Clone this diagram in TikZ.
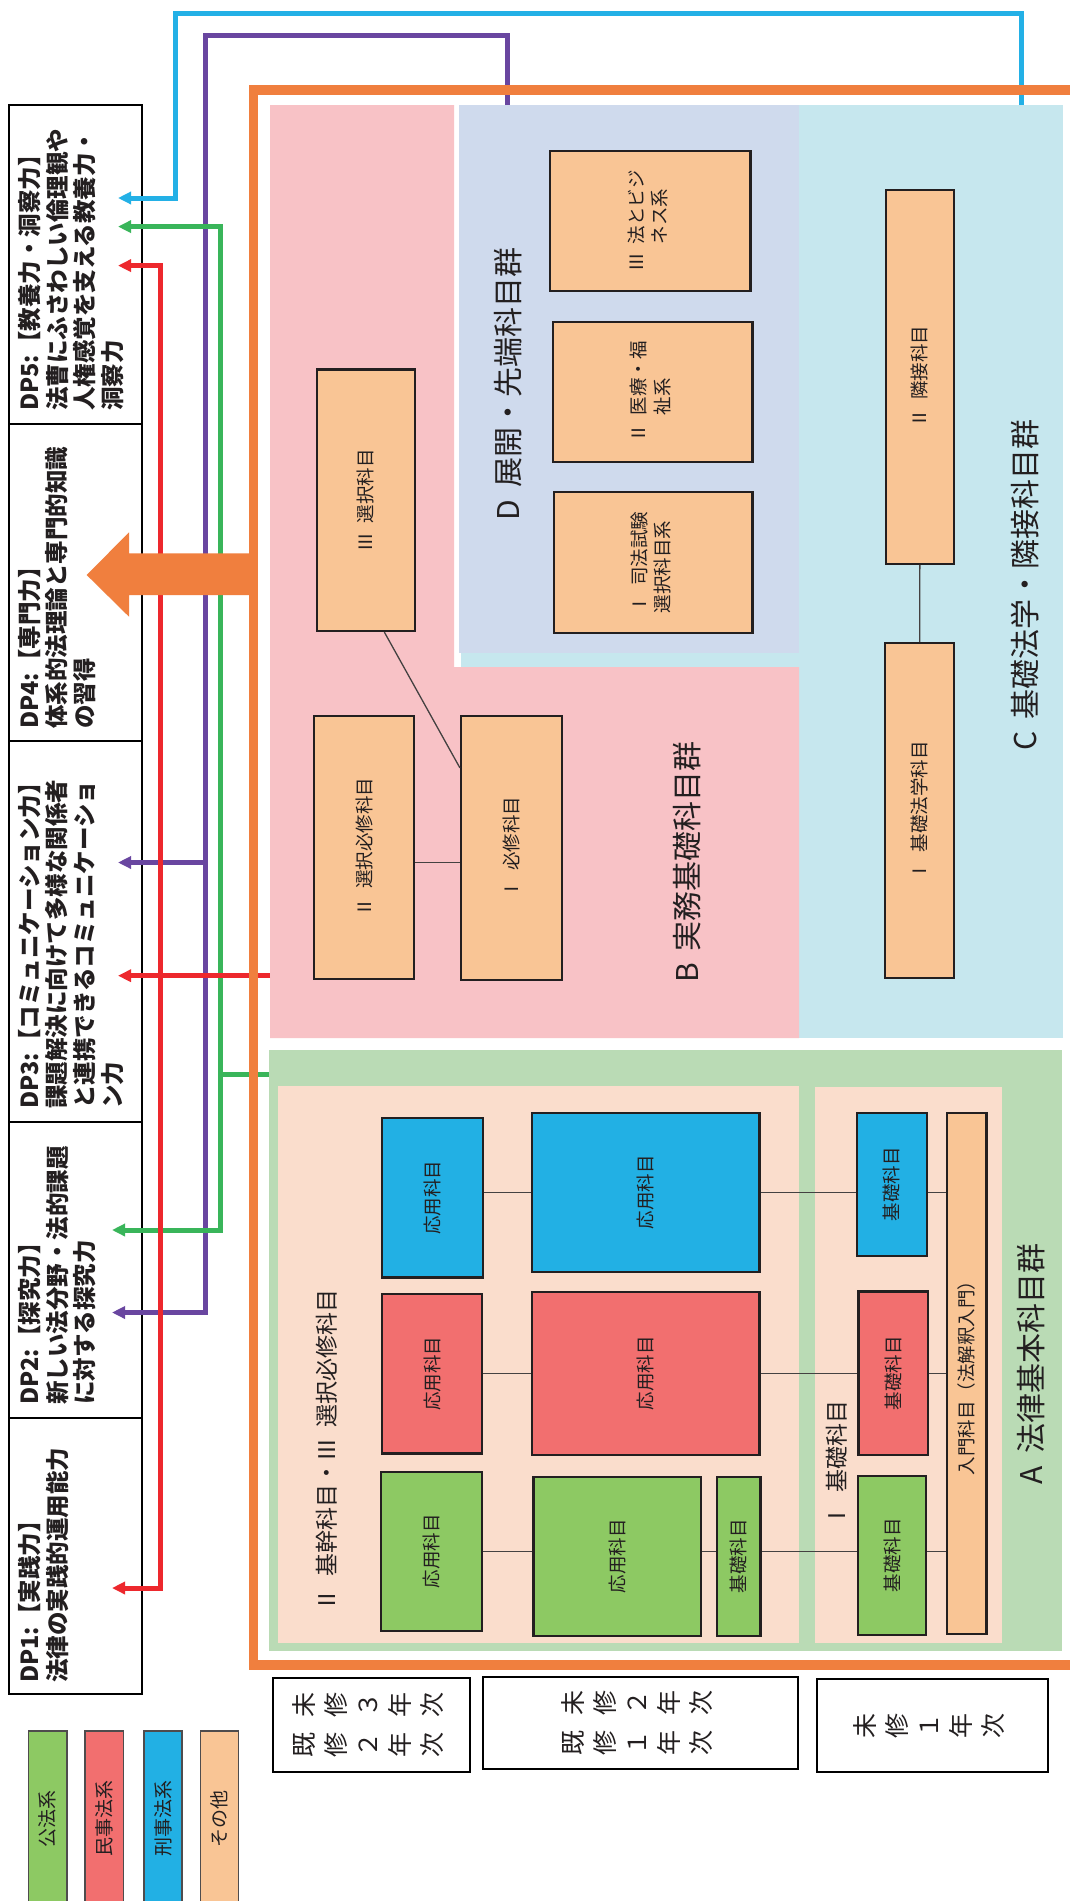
\documentclass[tikz,border=0pt]{standalone}
\usepackage{fontspec}
\setmainfont{Noto Sans CJK JP}
\usetikzlibrary{calc,arrows.meta}
\definecolor{cgreen}{RGB}{141,201,99}
\definecolor{cred}{RGB}{242,111,111}
\definecolor{cblue}{RGB}{34,176,228}
\definecolor{cpeach}{RGB}{249,197,149}
\definecolor{regA}{RGB}{186,219,181}
\definecolor{panel}{RGB}{250,221,204}
\definecolor{regB}{RGB}{248,194,198}
\definecolor{regC}{RGB}{198,231,238}
\definecolor{regD}{RGB}{207,218,237}
\definecolor{orangeF}{RGB}{240,127,62}
\definecolor{lnred}{RGB}{237,40,45}
\definecolor{lngreen}{RGB}{57,181,90}
\definecolor{lnpurple}{RGB}{105,70,160}
\definecolor{lncyan}{RGB}{35,176,230}
\definecolor{ink}{RGB}{35,31,32}
\newcommand{\rotT}[1]{\rotatebox{90}{#1}}
\begin{document}
\begin{tikzpicture}[x=1pt,y=-1pt,
  subj/.style={draw=ink,line width=2.2pt,inner sep=0pt,text=ink,font=\fontsize{18.5}{23.6}\selectfont},
  thinconn/.style={draw=ink!85,line width=1.3pt},
  conn/.style={line width=5pt},
  tipend/.style={-{Triangle[length=13pt,width=12pt]}},
  tipboth/.style={{Triangle[length=13pt,width=12pt]}-{Triangle[length=13pt,width=12pt]}},
  dpcell/.style={draw=black,line width=1.8pt,inner sep=0pt,minimum width=132.4pt},
  dptext/.style={rotate=90,anchor=north west,inner sep=0pt,align=left,text=ink,font=\fontsize{23.5}{27.7}\selectfont\bfseries},
  reglabel/.style={rotate=90,inner sep=0pt,text=ink,font=\fontsize{30}{34}\selectfont},
  grplabel/.style={rotate=90,inner sep=0pt,text=ink,font=\fontsize{23}{28}\selectfont},
  legendbox/.style={draw=ink!80,line width=1.5pt,inner sep=0pt,minimum width=38.2pt,minimum height=175pt,text=ink,font=\fontsize{19}{22}\selectfont},
  yearbox/.style={draw=black,line width=2pt,inner sep=0pt,text=ink,font=\fontsize{25}{32}\selectfont}
]
\useasboundingbox (0,0) rectangle (1069,1901);
\fill[white] (0,0) rectangle (1069,1901);

% regions
\fill[regC] (461,105) rectangle (1063,1038);
\fill[regD] (459,105) rectangle (799,653);
\fill[regB] (270,105) -- (454,105) -- (454,667) -- (799,667) -- (799,1038) -- (270,1038) -- cycle;
\fill[regA] (269,1050) rectangle (1062,1651);
\fill[panel] (278,1086) rectangle (799,1643);
\fill[panel] (815,1087) rectangle (1001.5,1643);

% region labels
\node[reglabel] (labA) at (1031,1364) {A\hspace{0.4em}法律基本科目群};
\node[reglabel] (labB) at (687,862) {B\hspace{0.4em}実務基礎科目群};
\node[reglabel] (labC) at (1025,585) {C\hspace{0.4em}基礎法学・隣接科目群};
\node[reglabel] (labD) at (508.5,384) {D\hspace{0.4em}展開・先端科目群};
\node[grplabel] (labA2) at (327,1450) {Ⅱ\hspace{0.5em}基幹科目・Ⅲ\hspace{0.5em}選択必修科目};
\node[grplabel] (labA1) at (837,1464) {Ⅰ\hspace{0.5em}基礎科目};

% A subject boxes
\node[subj,fill=cblue,minimum width=100.7pt,minimum height=159.5pt] (b1) at (432.7,1197.75) {\rotT{応用科目}};
\node[subj,fill=cred,minimum width=99.7pt,minimum height=159.5pt] (r1) at (432.2,1373.75) {\rotT{応用科目}};
\node[subj,fill=cgreen,minimum width=100.7pt,minimum height=158.6pt] (g1) at (431.7,1551.3) {\rotT{応用科目}};
\node[subj,fill=cblue,minimum width=227.5pt,minimum height=159.1pt] (b2) at (645.75,1192.25) {\rotT{応用科目}};
\node[subj,fill=cred,minimum width=227.5pt,minimum height=163.2pt] (r2) at (645.75,1373.4) {\rotT{応用科目}};
\node[subj,fill=cgreen,minimum width=167.5pt,minimum height=159.3pt] (g2) at (617.25,1556.35) {\rotT{応用科目}};
\node[subj,fill=cgreen,minimum width=43.8pt,minimum height=159.3pt] (g2k) at (738.6,1556.35) {\rotT{基礎科目}};
\node[subj,fill=cblue,minimum width=69.7pt,minimum height=143.3pt] (b3) at (891.85,1184.35) {\rotT{基礎科目}};
\node[subj,fill=cred,minimum width=69.2pt,minimum height=163.6pt] (r3) at (893.1,1373.2) {\rotT{基礎科目}};
\node[subj,fill=cgreen,minimum width=68pt,minimum height=158.7pt] (g3) at (892,1555.35) {\rotT{基礎科目}};
\node[subj,fill=cpeach,minimum width=39.2pt,minimum height=521.3pt] (ny) at (966.9,1373.35) {\rotT{入門科目（法解釈入門）}};

\draw[thinconn] (b1.east |- b2.west) -- (b2.west);
\draw[thinconn] (b2.east) -- (b2.east -| b3.west);
\draw[thinconn] (b2.east -| b3.east) -- (b2.east -| ny.west);
\draw[thinconn] (r1.east |- r2.west) -- (r2.west);
\draw[thinconn] (r2.east) -- (r2.east -| r3.west);
\draw[thinconn] (r2.east -| r3.east) -- (r2.east -| ny.west);
\draw[thinconn] (g1.east) -- (g1.east -| g2.west);
\draw[thinconn] (g1.east -| g2.east) -- (g1.east -| g2k.west);
\draw[thinconn] (g1.east -| g2k.east) -- (g1.east -| g3.west);
\draw[thinconn] (g1.east -| g3.east) -- (g1.east -| ny.west);

% B boxes
\node[subj,fill=cpeach,minimum width=98.3pt,minimum height=261.5pt] (s3) at (365.85,500.25) {\rotT{Ⅲ\hspace{0.5em}選択科目}};
\node[subj,fill=cpeach,minimum width=99.4pt,minimum height=263.3pt] (s2) at (364,847.35) {\rotT{Ⅱ\hspace{0.5em}選択必修科目}};
\node[subj,fill=cpeach,minimum width=100.7pt,minimum height=264.3pt] (s1) at (511.35,847.85) {\rotT{Ⅰ\hspace{0.5em}必修科目}};
\draw[thinconn] ([yshift=-15pt]s2.east) -- ([yshift=-15pt]s2.east -| s1.west);
\draw[thinconn] ($(s3.south)+(18.5,0)$) -- ($(s1.west)+(0,-80)$);

% D boxes
\node[subj,fill=cpeach,minimum width=200.4pt,minimum height=140pt] (d3) at (650.2,221) {\rotT{\begin{tabular}{@{}l@{}}Ⅲ\hspace{0.5em}法とビジ\\\phantom{Ⅲ\hspace{0.5em}}ネス系\end{tabular}}};
\node[subj,fill=cpeach,minimum width=199.5pt,minimum height=140pt] (d2) at (652.75,392) {\rotT{\begin{tabular}{@{}l@{}}Ⅱ\hspace{0.5em}医療・福\\\phantom{Ⅱ\hspace{0.5em}}祉系\end{tabular}}};
\node[subj,fill=cpeach,minimum width=198.5pt,minimum height=141pt] (d1) at (653.25,562.5) {\rotT{\begin{tabular}{@{}l@{}}Ⅰ\hspace{0.5em}司法試験\\選択科目系\end{tabular}}};

% C boxes
\node[subj,fill=cpeach,minimum width=68.3pt,minimum height=373.7pt] (c2) at (919.85,376.85) {\rotT{Ⅱ\hspace{0.5em}隣接科目}};
\node[subj,fill=cpeach,minimum width=69.3pt,minimum height=335pt] (c1) at (919.65,810.8) {\rotT{Ⅰ\hspace{0.5em}基礎法学科目}};
\draw[thinconn] (c2.south) -- (c1.north);

% DP cells
\node[dpcell,minimum height=319pt] (dp5) at (75.5,264.5) {};
\node[dpcell,minimum height=317pt] (dp4) at (75.5,582.5) {};
\node[dpcell,minimum height=381pt] (dp3) at (75.5,931.5) {};
\node[dpcell,minimum height=296pt] (dp2) at (75.5,1270) {};
\node[dpcell,minimum height=276pt] (dp1) at (75.5,1556) {};
\node[dptext] (dp5t) at (18,411) {DP5:【教養力・洞察力】\\法曹にふさわしい倫理観や\\人権感覚を支える教養力・\\洞察力};
\node[dptext] (dp4t) at (18,729) {DP4:【専門力】\\体系的法理論と専門的知識\\の習得};
\node[dptext] (dp3t) at (18,1109) {DP3:【コミュニケーション力】\\課題解決に向けて多様な関係者\\と連携できるコミュニケーショ\\ン力};
\node[dptext] (dp2t) at (18,1405) {DP2:【探究力】\\新しい法分野・法的課題\\に対する探究力};
\node[dptext] (dp1t) at (18,1683) {DP1:【実践力】\\法律の実践的運用能力};

% connector coordinates
\coordinate (cyS) at (1021.5,105);
\coordinate (cyA) at (1021.5,13);
\coordinate (cyB) at (175,13);
\coordinate (cyC) at (175,198);
\coordinate (cyT) at (118,198);
\coordinate (puS) at (507.5,105);
\coordinate (puA) at (507.5,35);
\coordinate (puB) at (205,35);
\coordinate (puC) at (205,1312.5);
\coordinate (puT2) at (112,1312.5);
\coordinate (puJ) at (205,862.5);
\coordinate (puT3) at (118,862.5);
\coordinate (grS) at (269,1074);
\coordinate (grJ) at (220,1074);
\coordinate (grA) at (220,226.6);
\coordinate (grT5) at (118,226.6);
\coordinate (grB) at (220,1230);
\coordinate (grT2) at (112,1230);
\coordinate (reA) at (160,265.6);
\coordinate (reT5) at (118,265.6);
\coordinate (reB) at (160,1588);
\coordinate (reT1) at (112,1588);
\coordinate (reS) at (270,975.7);
\coordinate (reT3) at (118,975.7);

\draw[conn,lncyan,tipend] (cyS) -- (cyA) -- (cyB) -- (cyC) -- (cyT);
\draw[conn,lnpurple,tipend] (puS) -- (puA) -- (puB) -- (puC) -- (puT2);
\draw[conn,lnpurple,tipend] (puJ) -- (puT3);
\draw[conn,lngreen,tipboth] (grT5) -- (grA) -- (grB) -- (grT2);
\draw[conn,lngreen] (grS) -- (grJ);
\draw[conn,lnred,tipboth] (reT5) -- (reA) -- (reB) -- (reT1);
\draw[conn,lnred,tipend] (reS) -- (reT3);

% orange frame and arrow
\draw[orangeF,line width=9.3pt] (1080,90) -- (253.7,90) -- (253.7,1665) -- (1080,1665);
\fill[orangeF] (86.7,575) -- (129,532.3) -- (129,553.3) -- (257,553.3) -- (257,595) -- (129,595) -- (129,616.7) -- cycle;

% year boxes
\node[yearbox,minimum width=197.7pt,minimum height=94pt] (y1) at (371.55,1725) {\rotT{\begin{tabular}{@{}c@{}}既\hspace{15pt}未\\修\hspace{15pt}修\\２\hspace{15pt}３\\年\hspace{15pt}年\\次\hspace{15pt}次\end{tabular}}};
\node[yearbox,minimum width=315.6pt,minimum height=92.6pt] (y2) at (640.4,1723) {\rotT{\begin{tabular}{@{}c@{}}既\hspace{15pt}未\\修\hspace{15pt}修\\１\hspace{15pt}２\\年\hspace{15pt}年\\次\hspace{15pt}次\end{tabular}}};
\node[yearbox,minimum width=231.1pt,minimum height=93pt] (y3) at (932.15,1725.5) {\rotT{\begin{tabular}{@{}c@{}}未\\修\\１\\年\\次\end{tabular}}};

% legend
\node[legendbox,fill=cgreen] (lg1) at (47.7,1818.5) {\rotT{公法系}};
\node[legendbox,fill=cred] (lg2) at (104.2,1818.5) {\rotT{民事法系}};
\node[legendbox,fill=cblue] (lg3) at (162.9,1818.5) {\rotT{刑事法系}};
\node[legendbox,fill=cpeach] (lg4) at (219.5,1818.5) {\rotT{その他}};
\end{tikzpicture}
\end{document}
